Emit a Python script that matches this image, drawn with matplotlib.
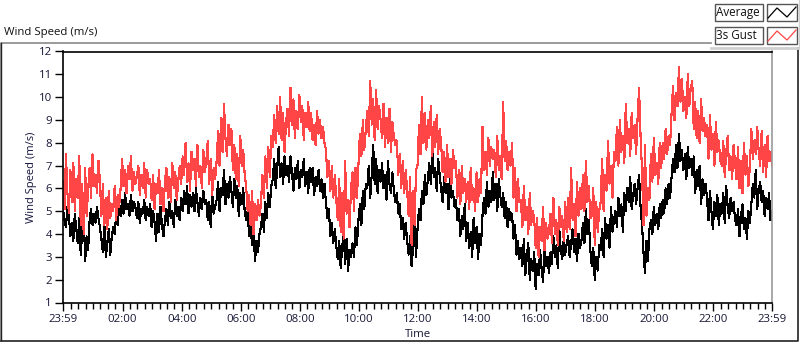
#!/usr/bin/env python3
"""
Wind speed chart - average and 3s gust over one day
"""

import numpy as np
import matplotlib
matplotlib.use('Agg')
import matplotlib.pyplot as plt
from matplotlib.patches import Rectangle

# Data: one reading every 3 minutes, starting at 23:59 the previous day
STEP_MIN = 3

avg_speed = [
    5.1, 4.6, 4.3, 5.2, 4.8, 3.9, 4.5, 3.7, 4.9, 4.2,
    3.6, 4.7, 3.1, 4.1, 5.0, 2.8, 3.9, 3.3,
    4.6, 5.1, 4.4, 4.9, 4.5, 5.2, 4.7, 4.3,
    3.8, 3.2, 4.4, 3.0, 3.6, 4.2, 3.1, 3.9,
    4.3, 4.0, 4.9, 4.4, 5.4, 4.8,
    5.5, 4.9, 5.8, 5.1, 5.3, 4.8, 5.7, 5.0, 5.4, 5.2,
    4.7, 5.4, 4.5, 5.1, 4.9, 5.5, 4.6, 5.2, 4.8, 5.3,
    4.3, 5.0, 4.5, 3.7, 4.9, 4.1, 5.2, 4.4, 3.9, 4.6,
    5.1, 4.4, 5.4, 4.7, 5.0, 4.3, 5.5, 4.8, 5.2, 4.6,
    5.6, 5.0, 5.9, 5.3, 6.1, 4.9, 5.7, 5.2, 5.8, 5.0, 6.0, 5.4, 4.8, 5.6, 5.1, 5.9, 5.3, 5.5,
    4.6, 5.4, 4.3, 5.8, 4.9, 5.2,
    5.5, 6.3, 5.0, 6.0, 5.7, 6.8, 5.3, 6.2, 5.6, 6.5,
    5.9, 5.2, 6.4, 5.6, 6.1, 4.8, 5.8, 5.3, 6.0, 5.0,
    4.6, 5.0, 3.9, 4.4, 3.5, 4.2, 2.8, 3.7, 3.2, 4.0,
    4.3, 4.9, 4.1, 5.4, 4.7, 5.8, 5.2, 6.1,
    6.4, 7.3, 6.0, 6.9, 7.8, 6.5, 7.1, 6.2, 7.4, 6.6,
    7.0, 6.3, 7.4, 6.7, 5.9, 6.9, 6.4, 7.2, 6.0, 6.8, 6.5, 7.3, 6.1, 6.7, 5.8, 6.9,
    6.3, 6.9, 5.7, 6.5, 6.1, 6.8, 5.9, 6.4, 5.6, 6.2,
    5.4, 4.7, 5.1, 3.9, 4.5, 3.6, 4.2, 3.5,
    2.9, 3.7, 2.5, 3.4, 4.1, 2.7, 3.8, 2.4, 3.3, 3.0,
    3.6, 3.0, 4.3, 3.5,
    4.6, 5.3, 4.4, 5.9, 5.1, 6.2,
    6.0, 7.0, 5.6, 6.6, 7.9, 6.2, 7.3, 5.8, 6.8, 6.3,
    7.1, 6.0, 6.6, 5.5, 7.2, 6.2, 5.8, 6.7, 5.9, 5.4,
    5.8, 4.9, 5.3, 4.2, 4.7, 3.8, 4.5, 3.7,
    3.1, 3.9, 2.6, 3.4, 4.4, 3.0,
    4.2, 5.1, 4.6, 5.9, 5.3, 6.6, 5.7, 6.4,
    7.1, 6.2, 7.7, 6.5, 6.9, 5.9, 7.3, 6.6,
    6.0, 5.4, 6.5, 5.8, 6.2, 5.1, 6.7, 5.6, 5.9, 5.2,
    5.5, 4.6, 5.1, 3.9, 4.8, 4.2, 5.3, 3.7,
    4.5, 3.4, 4.1, 3.0, 4.7, 3.6, 4.3, 2.9, 4.0, 3.5,
    4.8, 5.6, 4.9, 6.3, 5.2, 5.9, 5.4, 6.7,
    5.5, 6.2, 5.0, 6.4, 5.7, 5.2,
    5.8, 4.7, 5.4, 4.3, 5.1, 4.6,
    4.9, 3.8, 4.4, 3.1, 3.7, 2.9,
    3.4, 2.6, 3.8, 2.2, 3.0, 3.6, 2.0, 2.9, 2.4, 3.2,
    1.6, 2.7, 2.2, 3.3, 2.5, 1.9, 3.5, 2.6, 3.0, 2.3,
    3.2, 2.7, 3.9, 3.0, 3.5, 2.5, 4.2, 3.3, 2.9, 3.8, 3.1, 3.6,
    3.9, 3.0, 3.6, 4.2, 3.2, 3.8, 2.8, 4.0, 3.4, 3.7,
    4.5, 3.6, 5.1, 4.0, 4.6, 3.3,
    2.6, 3.4, 2.0, 3.0, 2.4, 3.5,
    3.3, 4.2, 3.0, 4.7, 3.8, 4.4, 3.4, 5.2, 4.1, 4.6,
    5.0, 4.3, 5.6, 4.8, 5.3, 4.1, 5.8, 5.0, 6.0, 5.4, 6.5, 5.1, 5.7, 6.2, 5.3, 6.0,
    6.6, 5.2,
    4.4, 3.2, 2.3, 3.7, 2.8, 4.2,
    4.6, 4.0, 5.2, 4.4, 4.9, 4.2, 5.3, 4.7,
    5.5, 4.9, 6.0, 5.3, 6.2, 5.6,
    6.5, 7.3, 6.7, 7.9, 6.9, 8.4, 7.2, 7.7, 6.8, 7.5, 6.4, 7.8, 6.9, 7.3,
    6.6, 7.4, 5.8, 6.8, 6.1, 7.0, 5.3, 6.4, 5.7, 6.2,
    5.6, 4.6, 5.9, 5.0, 4.2, 5.4, 4.8, 5.7, 4.4, 5.3,
    4.9, 5.8, 4.5, 6.1, 5.2, 4.7, 5.6, 5.0, 5.4, 4.6,
    4.4, 5.1, 3.9, 4.8, 5.3, 4.2, 4.7, 3.8, 5.0, 4.5,
    5.3, 6.2, 5.6, 6.8, 5.1, 5.9,
    6.3, 5.4, 5.9, 4.8, 5.6, 5.1, 5.8, 4.6, 5.0,
]

gust_speed = [
    6.3, 5.1, 7.5, 5.8, 4.9, 6.8, 5.4, 7.1, 5.0, 6.4,
    5.6, 7.4, 4.4, 6.2, 4.0, 6.9, 4.8, 5.9,
    6.9, 5.6, 7.5, 6.1, 6.6, 5.8, 7.2, 6.3,
    4.8, 6.2, 4.4, 5.6, 4.2, 5.9, 4.7, 5.3,
    5.0, 6.1, 4.6, 5.7, 5.2, 6.0,
    7.3, 6.1, 6.8, 5.8, 7.0, 6.4, 7.4, 5.9, 6.7, 6.2,
    6.5, 7.0, 5.7, 6.6, 6.0, 7.1, 5.6, 6.8, 6.2, 6.4,
    5.5, 6.6, 5.1, 6.2, 5.8, 6.8, 5.3, 6.0, 5.0, 6.3,
    6.9, 5.6, 6.5, 5.4, 7.1, 6.0, 6.7, 5.5, 6.3, 7.0,
    6.2, 7.4, 6.6, 8.0, 6.3, 7.1, 5.9, 7.6, 6.8, 7.3, 6.1, 7.9, 6.5, 7.0, 6.0, 7.7, 6.7, 7.2,
    8.1, 6.2, 7.3, 5.7, 6.9, 6.4,
    7.2, 8.5, 7.0, 9.1, 7.6, 9.7, 8.2, 7.4, 8.8, 7.9,
    8.6, 6.8, 7.9, 6.4, 7.5, 6.1, 8.3, 7.0, 7.7, 6.6,
    6.1, 5.0, 5.7, 4.4, 5.9, 4.0, 5.3, 4.6, 5.5, 4.8,
    5.3, 6.6, 5.6, 7.4, 6.0, 7.8, 6.5, 8.3,
    7.8, 9.2, 8.0, 9.6, 8.4, 10.0, 8.1, 9.3, 7.6, 8.9,
    9.5, 8.3, 10.4, 8.8, 9.9, 8.2, 9.4, 8.6, 10.1, 8.9, 9.6, 8.1, 9.3, 8.7, 9.8, 8.5,
    9.3, 8.1, 8.8, 7.9, 9.4, 8.4, 9.0, 8.2, 8.7, 8.0,
    7.7, 6.5, 7.2, 5.9, 7.0, 5.6, 6.6, 5.5,
    4.6, 6.4, 4.1, 5.8, 3.8, 7.2, 4.9, 5.5, 4.3, 6.0,
    6.7, 5.0, 6.9, 5.6,
    7.0, 8.4, 7.4, 9.0, 7.7, 8.6,
    9.4, 8.3, 10.7, 8.8, 9.9, 8.1, 10.3, 8.6, 9.6, 9.0,
    8.2, 9.7, 7.8, 9.1, 8.0, 9.5, 7.6, 8.9, 8.3, 7.9,
    8.1, 6.6, 7.5, 6.0, 7.2, 5.8, 6.8, 5.9,
    4.8, 6.5, 3.5, 5.9, 4.4, 6.8,
    7.0, 8.8, 7.5, 10.0, 8.0, 9.3, 7.7, 9.0,
    8.2, 9.6, 7.4, 8.9, 7.8, 9.2, 7.5, 8.6,
    8.0, 6.7, 7.6, 6.3, 7.9, 6.5, 7.3, 6.2, 7.7, 6.9,
    7.2, 5.6, 6.8, 5.3, 7.0, 5.8, 6.4, 5.4,
    6.3, 5.1, 6.9, 5.5, 6.0, 5.0, 6.7, 5.4, 6.4, 5.8,
    8.7, 6.8, 7.6, 6.6, 8.2, 7.0, 7.8, 7.3,
    7.7, 6.5, 8.3, 6.8, 7.4, 6.4,
    9.8, 7.2, 8.1, 6.8, 7.6, 7.0,
    8.0, 5.6, 6.9, 5.0, 6.4, 5.4,
    5.5, 4.3, 6.1, 4.6, 5.2, 4.0, 5.8, 4.4, 5.0, 4.7,
    3.4, 4.7, 3.0, 4.3, 3.7, 5.2, 3.3, 4.5, 3.8, 4.1,
    4.9, 3.6, 5.6, 4.0, 4.6, 3.5, 5.2, 4.3, 4.8, 3.7, 5.4, 4.1,
    5.6, 4.2, 6.9, 4.6, 5.3, 3.9, 6.3, 4.8, 6.0, 5.1,
    6.6, 5.0, 7.2, 5.4, 6.1, 4.7,
    4.8, 6.0, 3.5, 5.4, 4.1, 5.0,
    5.4, 7.3, 5.0, 6.6, 5.9, 8.1, 6.2, 7.0, 5.6, 7.6,
    7.2, 8.7, 7.0, 9.0, 7.6, 8.3, 7.1, 9.7, 8.0, 8.6, 7.4, 9.3, 8.2, 8.8, 7.5, 9.1,
    10.4, 8.3,
    6.8, 4.4, 7.9, 4.8, 6.0, 5.5,
    7.5, 6.3, 8.2, 6.6, 7.1, 6.2, 8.0, 6.9,
    8.0, 7.3, 8.6, 7.5, 8.3, 7.9,
    9.3, 10.5, 9.0, 10.2, 9.6, 11.3, 9.8, 10.8, 9.4, 10.0, 9.1, 11.0, 9.6, 10.4,
    10.7, 8.6, 9.8, 8.2, 9.4, 8.0, 9.9, 8.5, 9.1, 8.3,
    8.8, 7.3, 9.2, 7.7, 8.4, 7.0, 8.9, 7.6, 8.1, 7.2,
    7.0, 8.1, 6.5, 7.6, 8.3, 6.8, 7.4, 6.4, 7.9, 7.1,
    6.4, 7.8, 6.0, 7.2, 5.8, 8.0, 6.6, 7.4, 6.1, 6.9,
    8.6, 7.3, 8.1, 7.5, 8.7, 7.6,
    7.0, 8.5, 6.7, 7.9, 6.5, 8.3, 7.2, 7.6, 7.0,
]

# Tick labels (minutes after 23:59)
tick_minutes = [0, 121, 241, 361, 481, 601, 721, 841, 961, 1081, 1201, 1321, 1440]
tick_labels = ['23:59', '02:00', '04:00', '06:00', '08:00', '10:00', '12:00',
               '14:00', '16:00', '18:00', '20:00', '22:00', '23:59']

legend_names = ['Average', '3s Gust']
series_colors = ['#000000', '#ff4545']

plt.rcParams['font.family'] = ['Open Sans', 'DejaVu Sans']
TEXT_COLOR = '#161636'

W, H = 800, 342
fig = plt.figure(figsize=(W / 100, H / 100), dpi=100)

# Overlay axes in pixel coordinates for the frame and legend
ov = fig.add_axes([0, 0, 1, 1])
ov.set_xlim(0, W)
ov.set_ylim(H, 0)
ov.axis('off')

ov.plot([0.5, 0.5, 711], [340.5, 42.5, 42.5], color='#8a8a8a', lw=1.2)
ov.plot([0.5, 797.5, 797.5], [340.5, 340.5, 48], color='#222222', lw=1.2)
ov.plot([0.8, 0.8], [43, 340], color='#222222', lw=1.0)
ov.plot([711, 797.5], [47.5, 47.5], color='#d0d0d0', lw=2)
ov.plot([798.5, 798.5], [0, 48], color='#d0d0d0', lw=1)
ov.text(4, 32, 'Wind Speed (m/s)', fontsize=8.2, color='#111111', va='center', ha='left')

# Legend
for k, (name, col) in enumerate(zip(legend_names, series_colors)):
    y0 = 4 + k * 23
    ov.add_patch(Rectangle((714.5, y0), 48.5, 17, facecolor='white',
                           edgecolor='#555555', lw=1.0))
    ov.text(716.5, y0 + 8.5, name, fontsize=8.4, color='#111111', va='center', ha='left')
    ov.add_patch(Rectangle((766.5, y0), 30.5, 17, facecolor='white',
                           edgecolor='#555555', lw=1.0))
    ov.plot([768, 777, 787, 796], [y0 + 14, y0 + 4, y0 + 13, y0 + 3], color=col, lw=0.9)

# Main plot
ax = fig.add_axes([63 / W, 1 - 302.5 / H, (772 - 63) / W, (302.5 - 51.5) / H])
ax.set_facecolor('white')

t_avg = np.arange(len(avg_speed)) * STEP_MIN
t_gust = np.arange(len(gust_speed)) * STEP_MIN
ax.plot(t_avg, avg_speed, color=series_colors[0], lw=0.8, antialiased=False)
ax.plot(t_gust, gust_speed, color=series_colors[1], lw=0.8, antialiased=False)

ax.set_xlim(0, 1440)
ax.set_ylim(1, 12)
ax.set_yticks(range(1, 13))
ax.set_xticks(tick_minutes)
ax.set_xticklabels(tick_labels)
minor = [m for m in range(16, 1440, 15) if m not in tick_minutes]
ax.set_xticks(minor, minor=True)

ax.tick_params(axis='both', which='major', direction='out', length=6, width=1,
               labelsize=8.2, labelcolor=TEXT_COLOR, pad=2)
ax.tick_params(axis='x', which='minor', direction='out', length=4, width=1)
ax.tick_params(axis='y', which='minor', left=False)

for side in ['left', 'bottom', 'top']:
    ax.spines[side].set_color('black')
    ax.spines[side].set_linewidth(1.2)
ax.spines['right'].set_color('#999999')
ax.spines['right'].set_linewidth(1.2)

ax.set_ylabel('Wind Speed (m/s)', fontsize=8, color='#14143c', labelpad=1)
ax.set_xlabel('Time', fontsize=8.2, color=TEXT_COLOR, labelpad=3)

fig.savefig('out.png', dpi=100)
